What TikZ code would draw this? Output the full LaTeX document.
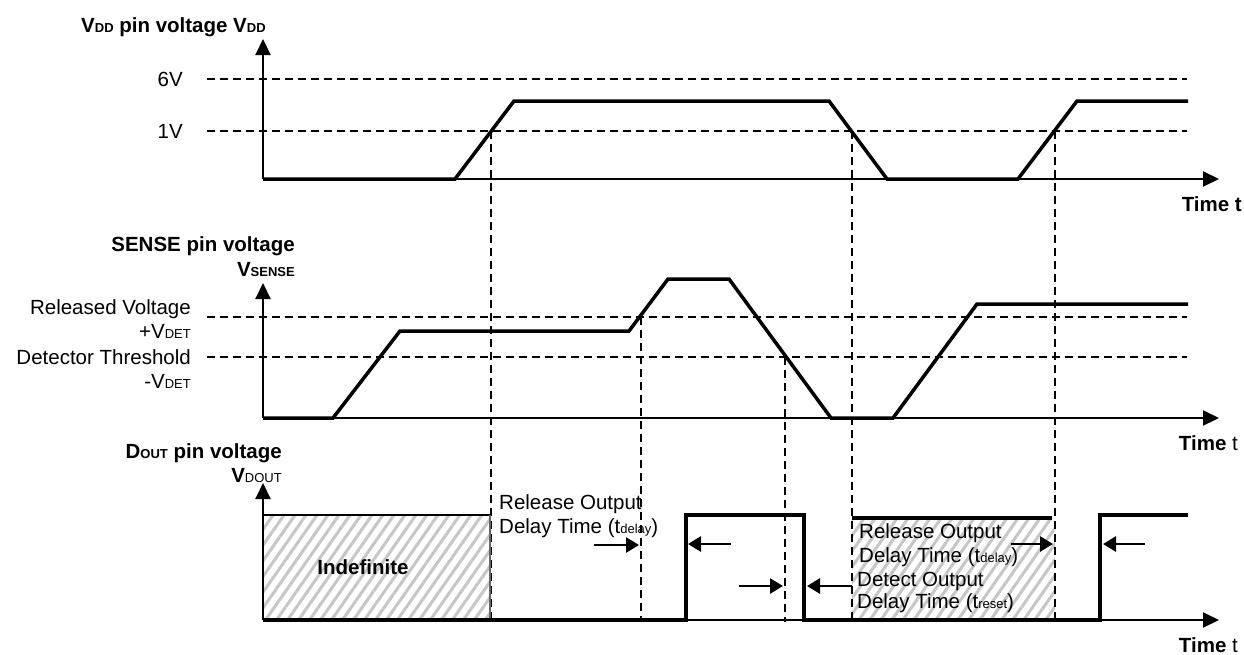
\documentclass[tikz,border=0pt]{standalone}
\usepackage{fontspec}
\setmainfont{Liberation Sans}
\usetikzlibrary{arrows.meta,patterns.meta}
\newcommand\smf[1]{{\fontsize{13}{13}\selectfont #1}}
\begin{document}
\begin{tikzpicture}[x=1pt,y=-1pt,
  lbl/.style={font=\fontsize{20.5}{24}\selectfont, inner sep=0pt},
  blbl/.style={font=\fontsize{20.5}{24}\selectfont\bfseries, inner sep=0pt},
  axis/.style={line width=2pt, -{Triangle[length=16pt,width=15pt]}},
  trace/.style={line width=3.5pt, line join=miter},
  guide/.style={line width=1.6pt, dash pattern=on 8pt off 5pt},
  delayarrow/.style={line width=2.8pt, -{Triangle[length=13pt,width=15pt]}},
  hatch/.style={pattern={Lines[angle=55,distance=9pt,line width=3pt]}, pattern color=gray!45}
]
\useasboundingbox (0,0) rectangle (1244,654);

% ---------- hatched areas (drawn first) ----------
\fill[hatch] (263,515) rectangle (490,620);
\fill[hatch] (852,518) rectangle (1055,620);

% ---------- VDD ----------
\coordinate (vo) at (263,179);
\coordinate (vyt) at (263,39);
\coordinate (vxt) at (1219,179);
\draw[guide] (207,79) -- (1187,79);
\draw[guide] (207,131) -- (1187,131);
\draw[axis] (vo) -- (vyt);
\draw[axis] (vo) -- (vxt);
\draw[trace] (263,179) -- (455,179) -- (514,101) -- (829,101) -- (887,179) -- (1018,179) -- (1077,101) -- (1188,101);

\node[blbl, anchor=base west] (tvdd) at (81,32) {V\smf{DD} pin voltage V\smf{DD}};
\node[lbl, anchor=base east] (l6v) at (183,86) {6V};
\node[lbl, anchor=base east] (l1v) at (183,138) {1V};
\node[blbl, anchor=base east] (time1) at (1242,211) {Time t};

% ---------- SENSE ----------
\coordinate (so) at (263,418);
\coordinate (syt) at (263,283);
\coordinate (sxt) at (1219,418);
\draw[guide] (207,317) -- (1187,317);
\draw[guide] (207,357) -- (1187,357);
\draw[axis] (so) -- (syt);
\draw[axis] (so) -- (sxt);
\draw[trace] (263,418) -- (333,418) -- (400,331) -- (629,331) -- (668,279) -- (729,279) -- (831,418) -- (893,418) -- (977,304) -- (1188,304);

\node[blbl, anchor=base east] (tsense) at (295,251) {SENSE pin voltage};
\node[blbl, anchor=base east] (vsense) at (295,276) {V\smf{SENSE}};
\node[lbl, anchor=base east] (rel) at (191,314) {Released Voltage};
\node[lbl, anchor=base east] (pvdet) at (191,338) {+V\smf{DET}};
\node[lbl, anchor=base east] (det) at (191,364) {Detector Threshold};
\node[lbl, anchor=base east] (mvdet) at (191,388) {-V\smf{DET}};
\node[lbl, anchor=base east] (time2) at (1238,450) {\textbf{Time} t};

% ---------- vertical guides ----------
\draw[guide] (491,131) -- (491,622);
\draw[guide] (852,131) -- (852,622);
\draw[guide] (1055,131) -- (1055,622);
\draw[guide] (641,317) -- (641,622);
\draw[guide] (785,357) -- (785,622);

% ---------- DOUT ----------
\coordinate (do) at (263,620);
\coordinate (dyt) at (263,483);
\coordinate (dxt) at (1219,620);
\draw[line width=1.5pt] (263,515) -- (490,515);
\draw[line width=1.2pt, black!60] (490,515) -- (490,620);
\draw[axis] (do) -- (dyt);
\draw[axis] (do) -- (dxt);
\draw[trace] (263,620) -- (686,620) -- (686,515) -- (804,515) -- (804,620) -- (1100,620) -- (1100,515) -- (1188,515);
\draw[trace] (852,518) -- (1052,518);

\node[blbl, anchor=base east] (tdout) at (282,458) {D\smf{OUT} pin voltage};
\node[lbl, anchor=base east] (vdout) at (282,482) {\textbf{V}\smf{DOUT}};
\node[blbl] (indef) at (363,567) {Indefinite};
\node[lbl, anchor=base west] (rel1a) at (499,509) {Release Output};
\node[lbl, anchor=base west] (rel1b) at (499,533) {Delay Time (t\smf{delay})};
\node[lbl, anchor=base west] (rel2a) at (859,538) {Release Output};
\node[lbl, anchor=base west] (rel2b) at (859,562) {Delay Time (t\smf{delay})};
\node[lbl, anchor=base west] (det2a) at (857,586) {Detect Output};
\node[lbl, anchor=base west] (det2b) at (857,608) {Delay Time (t\smf{reset})};
\node[lbl, anchor=base east] (time3) at (1238,652) {\textbf{Time} t};

% ---------- delay arrows ----------
\coordinate (a1s) at (594,545); \coordinate (a1e) at (639,545);
\coordinate (a2s) at (731,544); \coordinate (a2e) at (688,544);
\coordinate (a3s) at (739,586); \coordinate (a3e) at (783,586);
\coordinate (a4s) at (852,586); \coordinate (a4e) at (807,586);
\coordinate (a5s) at (1011,544); \coordinate (a5e) at (1053,544);
\coordinate (a6s) at (1145,544); \coordinate (a6e) at (1103,544);
\draw[delayarrow] (a1s) -- (a1e);
\draw[delayarrow] (a2s) -- (a2e);
\draw[delayarrow] (a3s) -- (a3e);
\draw[delayarrow] (a4s) -- (a4e);
\draw[delayarrow] (a5s) -- (a5e);
\draw[delayarrow] (a6s) -- (a6e);
\end{tikzpicture}
\end{document}
